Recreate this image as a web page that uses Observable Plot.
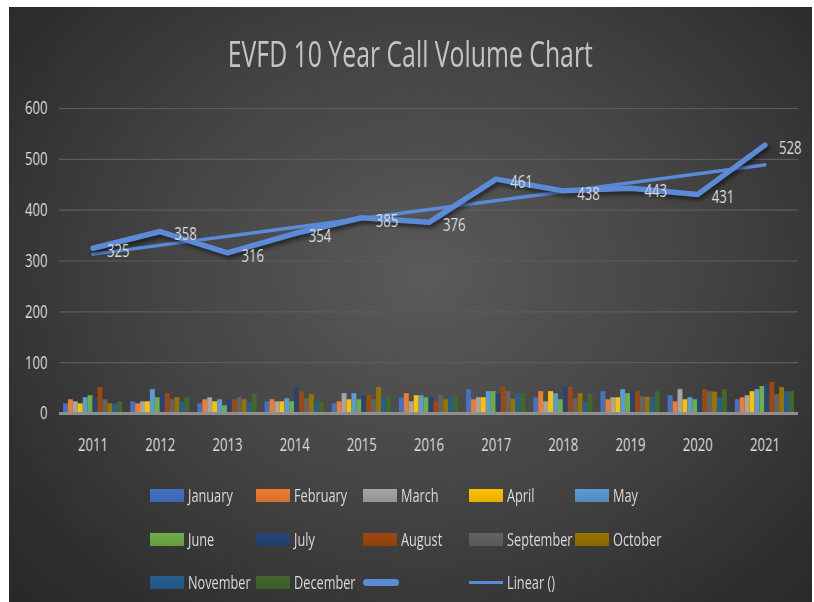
<!DOCTYPE html>
<html>
<head>
<meta charset="utf-8">
<script src="https://cdn.jsdelivr.net/npm/d3@7"></script>
<script src="https://cdn.jsdelivr.net/npm/@observablehq/plot@0.6"></script>
<style>
  html, body { margin: 0; padding: 0; background: #ffffff; width: 814px; height: 602px; overflow: hidden; }
  #frame {
    position: absolute; left: 9px; top: 7px; width: 803px; height: 595px;
    background: radial-gradient(ellipse 75% 85% at 52% 45%, #5a5a5a 0%, #444444 45%, #2e2e2e 80%, #262626 100%);
    font-family: "Open Sans", sans-serif;
    color: #d9d9d9;
  }
  #title {
    position: absolute; left: 0; width: 803px; top: 24px; text-align: center;
    font-size: 37px; color: #c4c4c4; line-height: 44px;
    transform: scaleX(0.67); transform-origin: 401px 0;
  }
  #chart { position: absolute; left: 0; top: 76px; }
  #chart svg g[aria-label="line"] path { filter: drop-shadow(2px 3px 2px rgba(0,0,0,0.55)); }
  .leg { position: absolute; height: 20px; display: flex; align-items: center; font-size: 19px; color: #d9d9d9; white-space: nowrap; }
  .leg span { display: inline-block; transform: scaleX(0.67); transform-origin: 0 50%; }
  .sw { width: 34px; height: 13px; margin-right: 4px; flex: none; }
</style>
</head>
<body>
<div id="frame">
  <div id="title">EVFD 10 Year Call Volume Chart</div>
  <div id="chart"></div>
  <div id="legend"></div>
</div>
<script>
const years = [2011, 2012, 2013, 2014, 2015, 2016, 2017, 2018, 2019, 2020, 2021];
const months = ["January", "February", "March", "April", "May", "June", "July", "August", "September", "October", "November", "December"];
const monthColors = ["#4472C4", "#ED7D31", "#A5A5A5", "#FFC000", "#5B9BD5", "#70AD47", "#264478", "#9E480E", "#636363", "#997300", "#255E91", "#43682B"];

// monthly call counts, one row per year (Jan..Dec)
const calls2011 = [19, 27, 23, 19, 31, 35, 31, 51, 27, 19, 19, 23];
const calls2012 = [23, 19, 23, 23, 47, 31, 39, 39, 27, 31, 23, 31];
const calls2013 = [19, 27, 31, 23, 27, 15, 27, 27, 31, 27, 23, 39];
const calls2014 = [23, 27, 23, 23, 29, 23, 51, 43, 29, 37, 23, 23];
const calls2015 = [19, 23, 39, 27, 39, 27, 35, 35, 27, 51, 31, 32];
const calls2016 = [31, 39, 23, 35, 35, 31, 31, 23, 35, 27, 31, 35];
const calls2017 = [47, 27, 31, 31, 43, 43, 39, 51, 43, 28, 39, 39];
const calls2018 = [31, 43, 23, 43, 39, 27, 51, 51, 29, 39, 23, 39];
const calls2019 = [43, 27, 31, 31, 47, 39, 43, 43, 33, 32, 31, 43];
const calls2020 = [35, 23, 47, 27, 31, 27, 31, 47, 43, 42, 31, 47];
const calls2021 = [27, 31, 35, 43, 47, 53, 57, 61, 37, 51, 43, 43];
const monthly = [calls2011, calls2012, calls2013, calls2014, calls2015, calls2016, calls2017, calls2018, calls2019, calls2020, calls2021];

const totals = [325, 358, 316, 354, 385, 376, 461, 438, 443, 431, 528];
const yTicks = [0, 100, 200, 300, 400, 500, 600];

const lineColor = "#5b8ad6";

const barData = [];
years.forEach((yr, yi) => monthly[yi].forEach((v, mi) => barData.push({year: yr, mi, month: months[mi], value: v})));
const totalData = years.map((yr, i) => ({year: yr, total: totals[i]}));

const groupHalf = 0.44;
const barW = (2 * groupHalf) / months.length;

const plot = Plot.plot({
  width: 803,
  height: 380,
  marginLeft: 50,
  marginRight: 14,
  marginTop: 25,
  marginBottom: 50,
  style: {background: "transparent", color: "#d9d9d9", fontFamily: "'Open Sans', sans-serif", fontSize: "18.5px", overflow: "visible"},
  x: {domain: [2010.5, 2021.5]},
  y: {domain: [0, 600]},
  color: {domain: months, range: monthColors},
  marks: [
    Plot.gridY(yTicks, {stroke: "#5c5c5c", strokeOpacity: 1, strokeWidth: 1.2}),
    Plot.axisY(yTicks, {tickSize: 0, tickPadding: 12, label: null, fill: "#d9d9d9", fontSize: 18.5}),
    Plot.axisX(years, {tickSize: 0, tickPadding: 24, label: null, tickFormat: d => String(d), fill: "#d9d9d9", fontSize: 18.5}),
    Plot.rectY(barData, {
      x1: d => d.year - groupHalf + d.mi * barW,
      x2: d => d.year - groupHalf + (d.mi + 1) * barW,
      y: "value",
      fill: "month"
    }),
    Plot.ruleY([0], {stroke: "#8f8f8f", strokeWidth: 3}),
    Plot.linearRegressionY(totalData, {x: "year", y: "total", ci: 0, stroke: lineColor, strokeWidth: 3.5}),
    Plot.line(totalData, {x: "year", y: "total", stroke: lineColor, strokeWidth: 5.5, strokeLinejoin: "round", strokeLinecap: "round"}),
    Plot.text(totalData, {x: "year", y: "total", text: d => String(d.total), dx: 14, dy: 3, textAnchor: "start", fill: "#d9d9d9", fontSize: 18.5})
  ]
});
// condense all text horizontally (Calibri-like narrow look)
plot.querySelectorAll("text").forEach(t => {
  const tr = t.getAttribute("transform") || "";
  t.setAttribute("transform", tr + " scale(0.71,1)");
});
document.getElementById("chart").appendChild(plot);

// legend (HTML)
const legend = document.getElementById("legend");
const colX = [141, 247, 354, 460, 566];
const rowY = [488, 532, 575];
const entries = months.map((m, i) => ({label: m, type: "rect", color: monthColors[i]}));
entries.push({label: "", type: "thick"});
entries.push({label: "Linear ()", type: "thin"});
entries.forEach((e, i) => {
  const r = Math.floor(i / 5), c = i % 5;
  const el = document.createElement("div");
  el.className = "leg";
  el.style.left = colX[c] + "px";
  el.style.top = (rowY[r] - 10) + "px";
  const sw = document.createElement("div");
  sw.className = "sw";
  if (e.type === "rect") {
    sw.style.background = `linear-gradient(${e.color}, ${d3.color(e.color).darker(0.3)})`;
  } else if (e.type === "thick") {
    sw.style.height = "7px"; sw.style.borderRadius = "4px"; sw.style.background = lineColor; sw.style.width = "36px";
  } else {
    sw.style.height = "3px"; sw.style.background = lineColor; sw.style.width = "34px";
  }
  el.appendChild(sw);
  const t = document.createElement("span");
  t.textContent = e.label;
  el.appendChild(t);
  legend.appendChild(el);
});
</script>
</body>
</html>
